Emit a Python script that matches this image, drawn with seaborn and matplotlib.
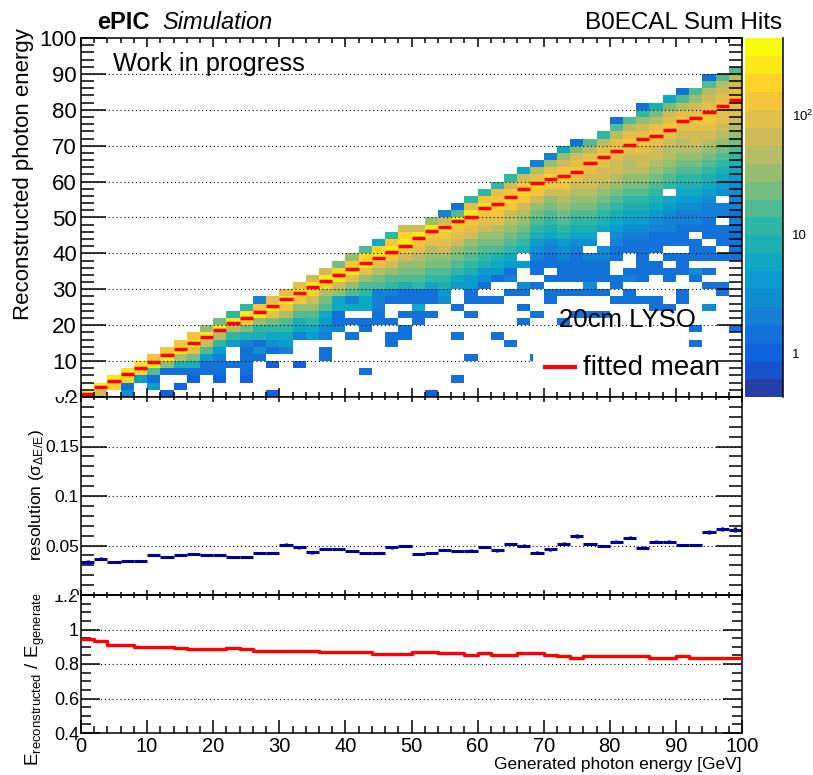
import numpy as np
import pandas as pd
import matplotlib
matplotlib.use("Agg")
import matplotlib.pyplot as plt
import seaborn as sns
from matplotlib.colors import ListedColormap, BoundaryNorm, LinearSegmentedColormap
from matplotlib.patches import Rectangle
from matplotlib.transforms import Bbox, TransformedBbox
from matplotlib.ticker import MultipleLocator, FixedLocator, NullFormatter

sns.set_style("white")
plt.rcParams['font.family'] = ['Liberation Sans', 'DejaVu Sans']
plt.rcParams['mathtext.fontset'] = 'custom'
plt.rcParams['mathtext.rm'] = 'Liberation Sans'
plt.rcParams['mathtext.it'] = 'Liberation Sans:italic'
plt.rcParams['mathtext.bf'] = 'Liberation Sans:bold'
for k in ['axes.edgecolor', 'text.color', 'xtick.color', 'ytick.color', 'axes.labelcolor']:
    plt.rcParams[k] = 'black'

# ---------------------------------------------------------------- data
gen_edges = np.arange(0, 101, 2)            # generated photon energy bins [GeV]
rec_edges = np.arange(0, 101, 2)            # reconstructed photon energy bins [GeV]

# fitted mean E_rec / E_gen per generated-energy bin (bottom panel)
ratio = [0.943, 0.933, 0.908, 0.908, 0.898, 0.898, 0.898, 0.893, 0.885, 0.885,
         0.885, 0.895, 0.885, 0.877, 0.877, 0.877, 0.877, 0.877, 0.870, 0.870,
         0.870, 0.870, 0.860, 0.860, 0.860, 0.871, 0.871, 0.862, 0.862, 0.852,
         0.864, 0.855, 0.855, 0.864, 0.864, 0.855, 0.845, 0.837, 0.845, 0.845,
         0.845, 0.845, 0.845, 0.837, 0.837, 0.845, 0.837, 0.837, 0.837, 0.837]

# resolution sigma(dE/E) per bin (middle panel) and its error
resolution = [0.0335, 0.0365, 0.0330, 0.0340, 0.0340, 0.0400, 0.0380, 0.0400, 0.0410, 0.0400,
              0.0400, 0.0380, 0.0380, 0.0425, 0.0425, 0.0506, 0.0480, 0.0433, 0.0466, 0.0466,
              0.0443, 0.0425, 0.0425, 0.0480, 0.0496, 0.0410, 0.0425, 0.0453, 0.0440, 0.0446,
              0.0483, 0.0453, 0.0513, 0.0496, 0.0425, 0.0463, 0.0520, 0.0594, 0.0520, 0.0496,
              0.0537, 0.0580, 0.0476, 0.0540, 0.0540, 0.0506, 0.0506, 0.0634, 0.0665, 0.0660]
resolution_err = [0.0020, 0.0015, 0.0008, 0.0008, 0.0008, 0.0008, 0.0008, 0.0008, 0.0008, 0.0008,
                  0.0008, 0.0008, 0.0008, 0.0008, 0.0008, 0.0015, 0.0015, 0.0015, 0.0012, 0.0012,
                  0.0012, 0.0008, 0.0008, 0.0015, 0.0012, 0.0008, 0.0008, 0.0012, 0.0008, 0.0015,
                  0.0008, 0.0015, 0.0012, 0.0015, 0.0015, 0.0015, 0.0012, 0.0018, 0.0010, 0.0008,
                  0.0015, 0.0015, 0.0015, 0.0012, 0.0012, 0.0008, 0.0008, 0.0018, 0.0018, 0.0025]

# colour-scale levels (20 log-spaced contours of the z axis)
z_log_min, z_log_max, n_levels = -0.37, 2.65, 20

# 2D histogram: one string per generated-energy bin, one character per
# reconstructed-energy bin from 0 GeV upward; character = colour level
# ('0'-'9','a'-'j' -> level 0..19), '.' = empty bin
hist_columns = [
    "i",
    "ei",
    ".hi",
    "53hi",
    "..6hi",
    ".63aig",
    "2..3cig",
    ".2.38dig",
    "..238bfig",
    "...336aeic",
    "..233469dib",
    "....3..69di9",
    "..2333348bgi9",
    ".....35389cig4",
    "2...2.3579bfif",
    "......4679adgif",
    "....2...478acgif",
    "........679acehie",
    ".....33.4567abdhie",
    ".........43377ceihb",
    "........3.3.74acfigc",
    "...3.....33.779acfiha",
    "..........33444abdfih7",
    ".......33.3..349acegig9",
    "........33.3.338abcegihe",
    "..........337339abcdfgie",
    "2..........3.3379abcdfgic",
    ".............5689abcefgie4",
    "..3.....3...3..679abcefgia3",
    ".....3.....3.336689abcefgif9",
    ".............3.35689abcefgig9",
    "........3....3..3678abcdfghgf9",
    ".......3......3.43679abcdeghge9",
    "..........3.3.35..6.89abcdeghge7",
    ".....3.....3...3.3345689abceghfd4",
    ".............33.3.3345789abceghfc4",
    "..........3...3.33345689abcdeghgec7",
    "...........3..3.333345789abcdefgfeb3",
    "...........3..353334.5789abcdeefgfda",
    "...........3..3.33345..789abcdeefgfd9",
    ".............3.33..33456789abcdeefgfda3",
    ".............33.43..33456789abcddefgfda",
    ".............3..333333456789abcdeefgfec93",
    "............33...33.333456789abcdeefgfdb8",
    "............3...33.3.3344567.9abcddefgfeb7",
    ".............33..333.3334456789abcddefgfda3",
    ".......3.3......35.333.34456789abcdeefgfeca",
    "............5..3.3.33.3334456789abcdefggfeda3",
    "..............33...3.333.44.56789abcdeffgfeda",
    ".........3.........333334344556789abcdeffgfeda",
]

# ---------------------------------------------------------------- derived
bin_w = gen_edges[1] - gen_edges[0]
gen_centers = 0.5 * (gen_edges[:-1] + gen_edges[1:])
n_gen, n_rec = len(gen_edges) - 1, len(rec_edges) - 1
level_edges = 10 ** np.linspace(z_log_min, z_log_max, n_levels + 1)
level_mid = np.sqrt(level_edges[:-1] * level_edges[1:])
mean_rec = np.asarray(ratio) * gen_centers


def level_of(ch):
    return int(ch) if ch.isdigit() else 10 + ord(ch) - ord('a')


counts = np.full((n_rec, n_gen), np.nan)
for j, col in enumerate(hist_columns):
    for i, ch in enumerate(col[:n_rec]):
        if ch != '.':
            counts[i, j] = level_mid[level_of(ch)]
hist_df = pd.DataFrame(counts, index=rec_edges[:-1], columns=gen_edges[:-1])

# ROOT kBird palette, 20 contour colours
stops = [0.0, 0.125, 0.25, 0.375, 0.5, 0.625, 0.75, 0.875, 1.0]
red_ = [0.2082, 0.0592, 0.0780, 0.0232, 0.1802, 0.5301, 0.8186, 0.9956, 0.9764]
grn_ = [0.1664, 0.3599, 0.5041, 0.6419, 0.7178, 0.7492, 0.7328, 0.7862, 0.9832]
blu_ = [0.5293, 0.8684, 0.8385, 0.7914, 0.6425, 0.4662, 0.3499, 0.1968, 0.0539]
bird = LinearSegmentedColormap.from_list('bird', list(zip(stops, zip(red_, grn_, blu_))))
bird_cmap = ListedColormap([bird((k + 0.99) / n_levels) for k in range(n_levels)])
bird_norm = BoundaryNorm(level_edges, n_levels)

# ---------------------------------------------------------------- figure
W, H = 813, 775
fig = plt.figure(figsize=(W / 100, H / 100), dpi=100)


def fx(px):
    return px / W


def fy(py):
    return 1 - py / H


L, R = 81, 742
ax1 = fig.add_axes([fx(L), fy(397), fx(R) - fx(L), fy(38) - fy(397)])
ax2 = fig.add_axes([fx(L), fy(595), fx(R) - fx(L), fy(397) - fy(595)])
ax3 = fig.add_axes([fx(L), fy(733), fx(R) - fx(L), fy(595) - fy(733)])
cax = fig.add_axes([fx(745), fy(397), fx(783) - fx(745), fy(38) - fy(397)])


def pad_box(ytop, ybot):
    return TransformedBbox(Bbox([[0, fy(ybot)], [1, fy(ytop)]]), fig.transFigure)


LW = 1.1
DOT = (0, (1, 2.5))

# ---- top panel: 2D histogram
sns.heatmap(hist_df, ax=ax1, cmap=bird_cmap, norm=bird_norm, mask=hist_df.isna(),
            cbar=False, xticklabels=False, yticklabels=False)
ax1.set_xlim(0, n_gen)
ax1.set_ylim(0, n_rec)
for sp in ax1.spines.values():
    sp.set_visible(True)
    sp.set_linewidth(LW)
    sp.set_color('black')
    sp.set_zorder(6)
yt = np.arange(0, 101, 10)
ax1.set_yticks(yt / bin_w, [str(v) for v in yt])
ax1.set_xticks(yt / bin_w, [])
ax1.xaxis.set_minor_locator(MultipleLocator(1))
ax1.yaxis.set_minor_locator(MultipleLocator(1))
ax1.set_xlabel('')
ax1.set_ylabel('')
ax1.tick_params(which='both', direction='in', left=True, right=True, top=True, bottom=True,
                labelbottom=False, width=LW, color='black')
ax1.tick_params(axis='y', which='major', length=18, labelsize=16, pad=3, labelrotation=0)
ax1.tick_params(axis='y', which='minor', length=9.4)
ax1.tick_params(axis='x', which='major', length=6.5)
ax1.tick_params(axis='x', which='minor', length=3.6)
ax1.xaxis.set_zorder(6)
ax1.yaxis.set_zorder(6)
for v in yt[1:-1]:
    ax1.axhline(v / bin_w, color='black', lw=0.8, ls=DOT, zorder=3)
mk = ax1.hlines(mean_rec / bin_w, gen_edges[:-1] / bin_w, gen_edges[1:] / bin_w,
                colors='red', linewidth=2.5, zorder=5)
mk.set_capstyle('butt')
# legend
ax1.add_patch(Rectangle((0.684, 0.002), 0.996 - 0.684, 0.1365, transform=ax1.transAxes,
                        facecolor='white', edgecolor='none', zorder=4))
ax1.plot([0.699, 0.750], [0.0836, 0.0836], transform=ax1.transAxes, color='red', lw=3,
         solid_capstyle='butt', zorder=5)
ax1.text(0.759, 0.0613, 'fitted mean', transform=ax1.transAxes, fontsize=20,
         va='baseline', ha='left', zorder=7)
ax1.text(0.723, 0.195, '20cm LYSO', transform=ax1.transAxes, fontsize=18.5,
         va='baseline', ha='left', zorder=7)
ax1.text(0.0484, 0.908, 'Work in progress', transform=ax1.transAxes, fontsize=18.3,
         va='baseline', ha='left', zorder=7)

# ---- colour bar
cax.pcolormesh([0, 1], level_edges, level_mid[:, None], cmap=bird_cmap, norm=bird_norm)
cax.set_yscale('log')
cax.set_ylim(level_edges[0], level_edges[-1])
cax.set_xlim(0, 1)
cax.set_xticks([])
cax.yaxis.tick_right()
cax.set_yticks([1, 10, 100], ['1', '10', r'$\mathregular{10^{2}}$'])
cax.yaxis.set_minor_locator(FixedLocator([0.5, 0.6, 0.7, 0.8, 0.9, 2, 3, 4, 5, 6, 7, 8, 9,
                                          20, 30, 40, 50, 60, 70, 80, 90, 200, 300, 400]))
cax.yaxis.set_minor_formatter(NullFormatter())
cax.tick_params(axis='y', which='major', direction='in', length=16.5, width=LW,
                labelsize=9.5, pad=6.5, right=True, left=False)
cax.tick_params(axis='y', which='minor', direction='in', length=8, width=LW,
                right=True, left=False)
for s in ['left', 'top', 'bottom']:
    cax.spines[s].set_visible(False)
cax.spines['right'].set_linewidth(LW)

# ---- middle panel: resolution
ax2.errorbar(gen_centers, resolution, xerr=bin_w / 2, yerr=resolution_err, fmt='none',
             ecolor='#000099', elinewidth=2.2, capsize=0, zorder=4)
ax2.set_xlim(0, 100)
ax2.set_ylim(0, 0.2)
ax2.set_yticks([0, 0.05, 0.1, 0.15, 0.2], ['0', '0.05', '0.1', '0.15', '0.2'])
ax2.yaxis.set_minor_locator(MultipleLocator(0.01))
ax2.set_xticks(yt, [])
ax2.xaxis.set_minor_locator(MultipleLocator(2))
ax2.tick_params(which='both', direction='in', left=True, right=True, top=True, bottom=True,
                labelbottom=False, width=LW, color='black')
ax2.tick_params(axis='y', which='major', length=18.7, labelsize=12.5, pad=1.5)
ax2.tick_params(axis='y', which='minor', length=9.4)
ax2.tick_params(axis='x', which='major', length=3.6)
ax2.tick_params(axis='x', which='minor', length=2.2)
for sp in ax2.spines.values():
    sp.set_linewidth(LW)
for v in [0.05, 0.1, 0.15]:
    ax2.axhline(v, color='black', lw=0.8, ls=DOT, zorder=3)

# ---- bottom panel: E_rec / E_gen
step_x = np.append(gen_edges[:-1], gen_edges[-1])
step_y = np.append(ratio, ratio[-1])
sns.lineplot(x=step_x, y=step_y, ax=ax3, drawstyle='steps-post', color='red',
             linewidth=2.4, estimator=None, zorder=4)
ax3.set_xlim(0, 100)
ax3.set_ylim(0.4, 1.2)
ax3.set_yticks([0.4, 0.6, 0.8, 1.0, 1.2], ['0.4', '0.6', '0.8', '1', '1.2'])
ax3.yaxis.set_minor_locator(MultipleLocator(0.05))
ax3.set_xticks(yt, [str(v) for v in yt])
ax3.xaxis.set_minor_locator(MultipleLocator(2))
ax3.set_xlabel('')
ax3.set_ylabel('')
ax3.tick_params(which='both', direction='in', left=True, right=True, top=False, bottom=True,
                width=LW, color='black')
ax3.tick_params(axis='y', which='major', length=13.7, labelsize=13, pad=1.5)
ax3.tick_params(axis='y', which='minor', length=7.2)
ax3.tick_params(axis='x', which='major', length=9.4, labelsize=14.5, pad=3)
ax3.tick_params(axis='x', which='minor', length=4.7)
for sp in ax3.spines.values():
    sp.set_linewidth(LW)
sec = ax3.secondary_xaxis('top')
sec.set_xticks(yt, [])
sec.xaxis.set_minor_locator(MultipleLocator(2))
sec.tick_params(which='major', direction='in', length=3.6, width=LW)
sec.tick_params(which='minor', direction='in', length=2.2, width=LW)
sec.spines['top'].set_linewidth(LW)
for v in [0.6, 0.8, 1.0]:
    ax3.axhline(v, color='black', lw=0.8, ls=DOT, zorder=3)

# ---- clipping of labels to their pads (ROOT-like)
for ax, (a, b) in [(ax1, (0, 397)), (ax2, (397, 595)), (ax3, (595, 775))]:
    box = pad_box(a, b)
    for lab in ax.get_yticklabels():
        lab.set_clip_box(box)
        lab.set_clip_on(True)

# ---- texts
fig.text(fx(97), fy(29), 'ePIC', fontsize=17, fontweight='bold', va='baseline')
fig.text(fx(162), fy(29), 'Simulation', fontsize=17, fontstyle='italic', va='baseline')
fig.text(fx(782), fy(29), 'B0ECAL Sum Hits', fontsize=17.5, ha='right', va='baseline')
fig.text(fx(24), fy(174), 'Reconstructed photon energy', rotation=90, ha='center',
         va='center', fontsize=16)
fig.text(fx(36), fy(495), r'resolution ($\mathregular{\sigma_{\Delta E/E}}$)', rotation=90,
         ha='center', va='center', fontsize=12.5)
yl3 = fig.text(fx(35), fy(766), r'E$_{\mathregular{reconstructed}}$ / E$_{\mathregular{generated}}$',
               rotation=90, ha='center', va='bottom', fontsize=13.5)
yl3.set_clip_box(pad_box(595, 775))
yl3.set_clip_on(True)
fig.text(fx(742), fy(765), 'Generated photon energy [GeV]', ha='right', va='center',
         fontsize=12.5)

fig.savefig('out.png', dpi=100)
